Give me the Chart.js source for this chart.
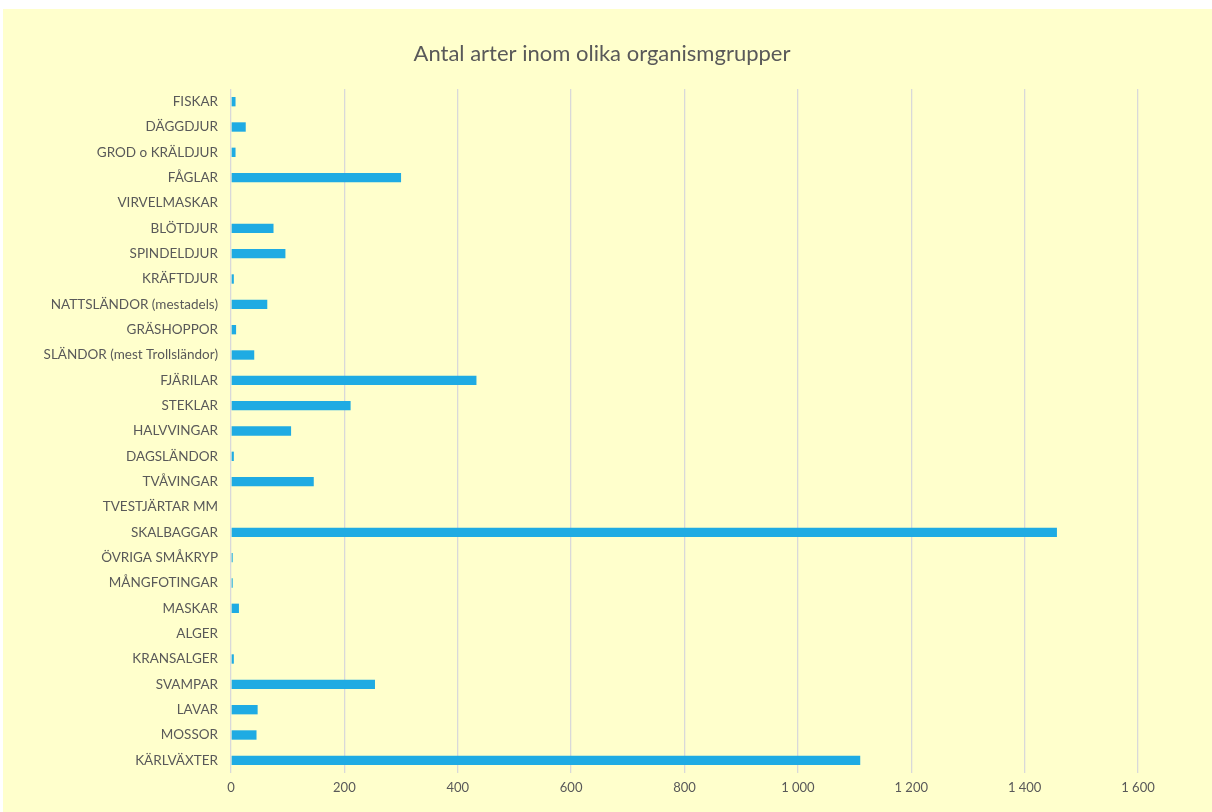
<!DOCTYPE html>
<html>
<head>
<meta charset="utf-8">
<script src="https://cdn.jsdelivr.net/npm/chart.js@4/dist/chart.umd.min.js"></script>
<style>
  html, body { margin: 0; padding: 0; background: #ffffff; }
  #wrap { position: absolute; left: 3px; top: 9px; width: 1209px; height: 803px; background: #FFFFCC; }
  canvas { display: block; }
</style>
</head>
<body>
<div id="wrap"><canvas id="c" width="1209" height="803"></canvas></div>
<script>
const categories = [
  'FISKAR', 'DÄGGDJUR', 'GROD o KRÄLDJUR', 'FÅGLAR', 'VIRVELMASKAR', 'BLÖTDJUR',
  'SPINDELDJUR', 'KRÄFTDJUR', 'NATTSLÄNDOR (mestadels)', 'GRÄSHOPPOR',
  'SLÄNDOR (mest Trollsländor)', 'FJÄRILAR', 'STEKLAR', 'HALVVINGAR', 'DAGSLÄNDOR',
  'TVÅVINGAR', 'TVESTJÄRTAR MM', 'SKALBAGGAR', 'ÖVRIGA SMÅKRYP', 'MÅNGFOTINGAR',
  'MASKAR', 'ALGER', 'KRANSALGER', 'SVAMPAR', 'LAVAR', 'MOSSOR', 'KÄRLVÄXTER'
];
const speciesCounts = [
  8, 26, 8, 300, 0, 75,
  96, 5, 64, 9,
  41, 433, 211, 106, 5,
  146, 0, 1457, 3, 3,
  14, 0, 5, 254, 47, 45, 1110
];
const xTicks = [0, 200, 400, 600, 800, 1000, 1200, 1400, 1600];
const chartTitle = 'Antal arter inom olika organismgrupper';

function fmt(v) {
  return String(v).replace(/\B(?=(\d{3})+(?!\d))/g, ' ');
}

const FONT = 'Lato, "Open Sans", sans-serif';
const GRAY = '#595959';

const titlePlugin = {
  id: 'centeredTitle',
  afterDraw(chart) {
    const ctx = chart.ctx;
    ctx.save();
    ctx.font = '22px ' + FONT;
    ctx.fillStyle = GRAY;
    ctx.textAlign = 'center';
    ctx.textBaseline = 'middle';
    ctx.fillText(chartTitle, 599, 45);
    ctx.restore();
  }
};

new Chart(document.getElementById('c'), {
  type: 'bar',
  data: {
    labels: categories,
    datasets: [{
      data: speciesCounts,
      backgroundColor: '#1FABE3',
      borderWidth: 0,
      barPercentage: 0.37,
      categoryPercentage: 1.0
    }]
  },
  options: {
    indexAxis: 'y',
    responsive: false,
    animation: false,
    layout: { padding: { left: 0, right: 74, top: 80, bottom: 0 } },
    plugins: {
      legend: { display: false },
      tooltip: { enabled: false },
      title: { display: false }
    },
    scales: {
      x: {
        min: 0,
        max: 1600,
        afterBuildTicks: (s) => { s.ticks = xTicks.map(v => ({ value: v })); },
        afterFit: (s) => { s.height = 39; },
        grid: { color: '#D9D9D9', lineWidth: 1.3, drawTicks: false },
        border: { display: false },
        ticks: {
          color: GRAY,
          padding: 7,
          font: { family: FONT, size: 13 },
          callback: (v) => fmt(v)
        }
      },
      y: {
        afterFit: (s) => { s.width = 228; },
        grid: { display: false, drawTicks: false },
        border: { display: false },
        ticks: {
          color: GRAY,
          padding: 13,
          autoSkip: false,
          font: { family: FONT, size: 13.5 }
        }
      }
    }
  },
  plugins: [titlePlugin]
});
</script>
</body>
</html>
